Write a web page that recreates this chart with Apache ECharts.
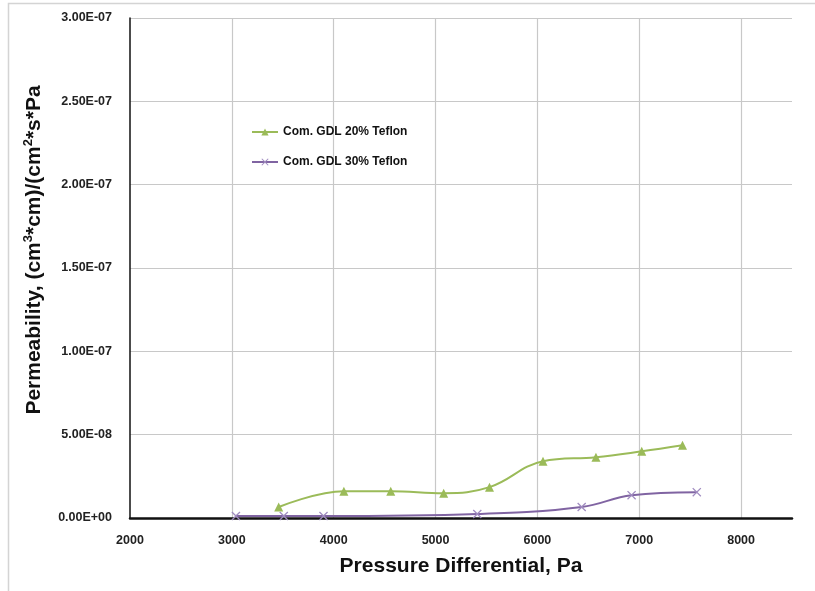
<!DOCTYPE html>
<html>
<head>
<meta charset="utf-8">
<script src="https://cdn.jsdelivr.net/npm/echarts@6/dist/echarts.min.js"></script>
<style>
  html, body { margin: 0; padding: 0; background: #fff; }
  #chart { width: 815px; height: 591px; }
</style>
</head>
<body>
<div id="chart"></div>
<script>
// 数据：压差 (Pa) 与渗透率
const pressure20 = [3460, 4100, 4560, 5080, 5530, 6055, 6575, 7025, 7425]
const perm20 = [6.6e-9, 1.61e-8, 1.61e-8, 1.49e-8, 1.85e-8, 3.41e-8, 3.65e-8, 4.0e-8, 4.36e-8]
const pressure30 = [3040, 3510, 3900, 5410, 6435, 6925, 7565]
const perm30 = [1.2e-9, 1.2e-9, 1.2e-9, 2.4e-9, 6.6e-9, 1.37e-8, 1.55e-8]
const seriesNames = ['Com. GDL 20% Teflon', 'Com. GDL 30% Teflon']

const green = '#9BBB59'
const purple = '#8064A2'
const crossPath = 'path://M0,1L1,0L5,4L9,0L10,1L6,5L10,9L9,10L5,6L1,10L0,9L4,5Z'

// 3.00E-07 这种格式
function sci(v) {
  if (v === 0) return '0.00E+00'
  let s = v.toExponential(2).toUpperCase()
  let parts = s.split('E')
  let exp = parseInt(parts[1])
  let sign = exp < 0 ? '-' : '+'
  let e = Math.abs(exp)
  return parts[0] + 'E' + sign + (e < 10 ? '0' + e : e)
}

function pairs(xs, ys) {
  return xs.map((x, i) => [x, ys[i]])
}

const chart = echarts.init(document.getElementById('chart'))

const labelStyle = {
  fontFamily: 'Liberation Sans',
  fontWeight: 'bold',
  fontSize: 12.5,
  color: '#222'
}

chart.setOption({
  animation: false,
  graphic: [{
    type: 'rect',
    shape: { x: 8.5, y: 3.5, width: 830, height: 620 },
    style: { fill: 'none', stroke: '#d4d4d4', lineWidth: 1.5 },
    silent: true
  }],
  grid: {
    left: 130,
    right: 23,
    top: 18,
    bottom: 73
  },
  legend: {
    orient: 'vertical',
    left: 246,
    top: 121,
    itemGap: 18,
    itemWidth: 26,
    itemHeight: 9,
    textStyle: {
      fontFamily: 'Liberation Sans',
      fontWeight: 'bold',
      fontSize: 12,
      color: '#111'
    },
    data: seriesNames
  },
  xAxis: {
    type: 'value',
    min: 2000,
    max: 8500,
    interval: 1000,
    name: 'Pressure Differential, Pa',
    nameLocation: 'middle',
    nameGap: 38,
    nameTextStyle: {
      fontFamily: 'Liberation Sans',
      fontWeight: 'bold',
      fontSize: 21,
      color: '#111'
    },
    axisLine: { show: true, lineStyle: { color: '#111', width: 2.5 } },
    axisTick: { show: false },
    axisLabel: Object.assign({ showMaxLabel: false, margin: 16, formatter: v => String(v) }, labelStyle),
    splitLine: {
      show: true,
      showMinLine: false,
      showMaxLine: false,
      lineStyle: { color: '#c8c8c8', width: 1.2 }
    }
  },
  yAxis: {
    type: 'value',
    min: 0,
    max: 3e-7,
    interval: 5e-8,
    name: '{n|Permeability, (cm}{s|3}{n|*cm)/(cm}{s|2}{n|*s*Pa}',
    nameLocation: 'middle',
    nameGap: 84,
    nameTextStyle: {
      padding: [0, 0, 0, 36],
      rich: {
        n: {
          fontFamily: 'Liberation Sans',
          fontWeight: 'bold',
          fontSize: 21,
          color: '#111',
          lineHeight: 24
        },
        s: {
          fontFamily: 'Liberation Sans',
          fontWeight: 'bold',
          fontSize: 13,
          color: '#111',
          verticalAlign: 'top',
          lineHeight: 24
        }
      }
    },
    axisLine: { show: true, lineStyle: { color: '#111', width: 1.5 } },
    axisTick: { show: false },
    axisLabel: Object.assign({ margin: 18, formatter: sci }, labelStyle),
    splitLine: {
      show: true,
      lineStyle: { color: '#c8c8c8', width: 1.2 }
    }
  },
  series: [
    {
      name: seriesNames[0],
      type: 'line',
      smooth: 0.4,
      data: pairs(pressure20, perm20),
      symbol: 'triangle',
      symbolSize: 9,
      lineStyle: { color: green, width: 2 },
      itemStyle: { color: green }
    },
    {
      name: seriesNames[1],
      type: 'line',
      smooth: 0.4,
      data: pairs(pressure30, perm30),
      symbol: crossPath,
      symbolSize: 9,
      lineStyle: { color: purple, width: 2 },
      itemStyle: { color: '#a08cc0' }
    }
  ]
})
</script>
</body>
</html>
